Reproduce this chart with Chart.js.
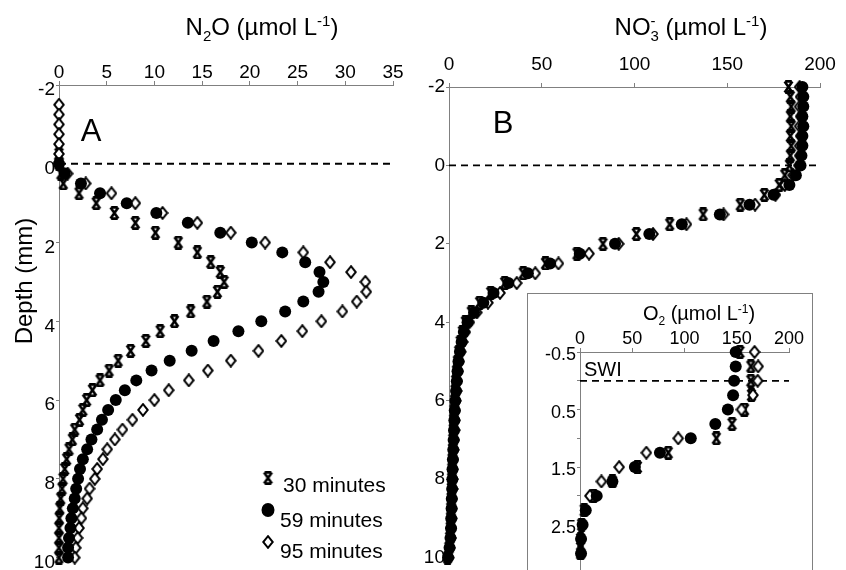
<!DOCTYPE html>
<html>
<head>
<meta charset="utf-8">
<script src="https://cdn.jsdelivr.net/npm/chart.js@4.4.0/dist/chart.umd.min.js"></script>
<style>
  html, body { margin: 0; padding: 0; background: #fff; overflow: hidden; }
  #wrap { position: relative; width: 846px; height: 570px; overflow: hidden; }
  #chartA { position: absolute; left: 0; top: 0; }
  #chartB { position: absolute; left: 420px; top: 0; }
  #insetBox { position: absolute; left: 527px; top: 293px; width: 284px; height: 300px;
              border: 1px solid #808080; background: #fff; }
  #chartC { display: block; }
</style>
</head>
<body>
<div id="wrap">
  <canvas id="chartA" width="420" height="570"></canvas>
  <canvas id="chartB" width="426" height="570"></canvas>
  <div id="insetBox"><canvas id="chartC" width="284" height="300"></canvas></div>
</div>
<script>
// depth (mm) below the sediment-water interface, negative = water column
var depthA = [-1.5, -1.25, -1, -0.75, -0.5, -0.25, 0, 0.25, 0.5, 0.75, 1, 1.25, 1.5, 1.75, 2, 2.25,
  2.5, 2.75, 3, 3.25, 3.5, 3.75, 4, 4.25, 4.5, 4.75, 5, 5.25, 5.5, 5.75, 6, 6.25, 6.5, 6.75, 7,
  7.25, 7.5, 7.75, 8, 8.25, 8.5, 8.75, 9, 9.25, 9.5, 9.75, 10];

// N2O (umol/L)
var n2o30 = [null, null, null, null, null, 0, 0, 0.2, 0.45, 2.1, 3.9, 5.8, 8.0, 10.1, 12.5, 14.5,
  15.9, 16.9, 17.3, 16.6, 15.5, 13.8, 12.1, 10.6, 9.1, 7.5, 6.2, 5.25, 4.3, 3.5, 2.9, 2.5, 2.15,
  1.65, 1.4, 1.05, 0.8, 0.6, 0.42, 0.32, 0.18, 0.08, 0.02, 0, 0, 0, 0];
var n2o59 = [null, null, null, null, null, null, 0, 0.6, 2.3, 4.3, 7.1, 10.2, 13.5, 16.9, 20.2, 23.4,
  25.8, 27.3, 27.7, 27.2, 25.6, 23.7, 21.2, 18.8, 16.2, 13.9, 11.6, 9.7, 8.1, 6.9, 5.95, 5.15, 4.5,
  4.0, 3.4, 2.95, 2.5, 2.2, 2.0, 1.8, 1.65, 1.45, 1.3, 1.2, 1.05, 0.95, 0.95];
var n2o95 = [0, 0, 0, 0, 0, 0, 0, 0.9, 2.8, 5.5, 8.0, 10.85, 14.5, 18.0, 21.6, 25.6,
  28.4, 30.6, 32.1, 32.2, 31.2, 29.7, 27.5, 25.5, 23.3, 20.9, 18.0, 15.6, 13.6, 11.5, 10.0, 8.8, 7.7,
  6.65, 5.85, 5.05, 4.6, 4.0, 3.75, 3.2, 2.95, 2.5, 2.35, 2.1, 1.95, 1.75, 1.65];

var depthB = [-2, -1.75, -1.5, -1.25, -1, -0.75, -0.5, -0.25, 0, 0.25, 0.5, 0.75, 1, 1.25, 1.5, 1.75,
  2, 2.25, 2.5, 2.75, 3, 3.25, 3.5, 3.75, 4, 4.25, 4.5, 4.75, 5, 5.25, 5.5, 5.75, 6, 6.25, 6.5,
  6.75, 7, 7.25, 7.5, 7.75, 8, 8.25, 8.5, 8.75, 9, 9.25, 9.5, 9.75, 10];

// NO3- (umol/L)
var no3_30 = [183, 184, 184.5, 184, 184.5, 184, 184.5, 184, 183.5, 181, 178, 170, 157, 137, 119, 101,
  83, 69, 52, 40, 30, 22.5, 16.5, 12, 8.8, 7.2, 6, 5.2, 4.5, 4.0, 3.6, 3.3, 3.0, 2.7, 2.5,
  2.3, 2.1, 1.9, 1.7, 1.6, 1.5, 1.3, 1.2, 1.0, 0.9, 0.7, 0.4, 0, -0.8];
var no3_59 = [190.5, 191, 191, 190.5, 191, 190.5, 190.5, 190, 189.5, 187, 183.5, 175, 162, 146, 125.5, 108,
  89.5, 70.5, 54.5, 42.5, 32, 24, 18.5, 13.5, 10, 8, 6.8, 5.9, 5.1, 4.6, 4.2, 3.8, 3.4, 3.1, 2.9,
  2.7, 2.5, 2.3, 2.1, 1.9, 1.8, 1.7, 1.5, 1.4, 1.2, 1.1, 0.8, 0.3, -0.5];
var no3_95 = [189, 189.5, 189, 189.5, 189, 189.5, 189, 189, 188.5, 185.5, 181, 176, 165, 148, 128, 110,
  91.5, 75.5, 59, 46.5, 36.5, 27.5, 21, 15, 11, 8.8, 7.4, 6.3, 5.5, 5.0, 4.5, 4.1, 3.7, 3.4, 3.2,
  3.0, 2.8, 2.5, 2.3, 2.1, 2.0, 1.9, 1.7, 1.6, 1.4, 1.3, 1.0, 0.5, 0];

var depthC = [-0.5, -0.25, 0, 0.25, 0.5, 0.75, 1, 1.25, 1.5, 1.75, 2, 2.25, 2.5, 2.75, 3];

// O2 (umol/L)
var o2_30 = [153, 163.5, 163.5, 164, 157.5, 145.5, 130.5, 84.5, 55, 31, 13, 4, 1.5, 0.5, 0.5];
var o2_59 = [149, 149, 147.5, 146.5, 141.5, 129.5, 106, 76.5, 52.5, 31, 16, 5.5, 2.5, 1, 1];
var o2_95 = [167, 170.5, 170, 165.5, 154.5, null, 94, 63.5, 37.5, 20.5, 9.5, null, null, null, null];

var seriesNames = ['30 minutes', '59 minutes', '95 minutes'];

var FONT = '"Liberation Sans", Arial, Helvetica, sans-serif';
Chart.defaults.font.family = FONT;
Chart.defaults.color = '#000';
Chart.defaults.animation = false;

// marker glyphs
function makeStar() {
  var c = document.createElement('canvas');
  c.width = 13; c.height = 14;
  var g = c.getContext('2d');
  g.strokeStyle = '#000';
  g.lineWidth = 2.6;
  g.beginPath();
  g.moveTo(3.2, 1.4); g.lineTo(9.8, 1.4);
  g.moveTo(3.2, 12.6); g.lineTo(9.8, 12.6);
  g.moveTo(2.6, 1.4); g.lineTo(10.4, 12.6);
  g.moveTo(10.4, 1.4); g.lineTo(2.6, 12.6);
  g.moveTo(6.5, 4.5); g.lineTo(6.5, 9.5);
  g.stroke();
  return c;
}

function makeDiamond() {
  var c = document.createElement('canvas');
  c.width = 12; c.height = 14;
  var g = c.getContext('2d');
  g.beginPath();
  g.moveTo(6, 1.2); g.lineTo(10.8, 7); g.lineTo(6, 12.8); g.lineTo(1.2, 7);
  g.closePath();
  g.fillStyle = '#fff';
  g.fill();
  g.lineWidth = 2;
  g.strokeStyle = '#000';
  g.stroke();
  return c;
}

var starImg = makeStar();
var diamondImg = makeDiamond();

function points(xs, ys) {
  var out = [];
  for (var i = 0; i < ys.length; i++) {
    if (xs[i] !== null) out.push({ x: xs[i], y: ys[i] });
  }
  return out;
}

// circles sit on top; `under` pushes the diamonds below the stars
function profileSets(depth, s30, s59, s95, under) {
  return [
    { label: seriesNames[0], data: points(s30, depth), pointStyle: starImg, pointRadius: 6, order: under ? 1 : 2, clip: false },
    { label: seriesNames[1], data: points(s59, depth), pointStyle: 'circle', pointRadius: 6,
      backgroundColor: '#000', borderColor: '#000', borderWidth: 0, order: 0, clip: false },
    { label: seriesNames[2], data: points(s95, depth), pointStyle: diamondImg, pointRadius: 6, order: under ? 2 : 1, clip: false }
  ];
}

function topAxis(max, step, height, gap, size) {
  return {
    type: 'linear', position: 'top', min: 0, max: max,
    ticks: { stepSize: step, font: { size: size }, padding: gap, maxRotation: 0, autoSkip: false },
    grid: { drawOnChartArea: false, drawTicks: true, tickLength: 4, color: '#808080' },
    border: { display: true, color: '#808080', width: 1 },
    afterFit: function (s) { s.height = height; }
  };
}

function depthAxis(min, max, step, width, shift, size, cb) {
  var ax = {
    type: 'linear', position: 'left', reverse: true, min: min, max: max,
    ticks: { stepSize: step, font: { size: size }, padding: 1, labelOffset: shift, autoSkip: false },
    grid: { drawOnChartArea: false, drawTicks: true, tickLength: 3, color: '#808080' },
    border: { display: true, color: '#808080', width: 1 },
    afterFit: function (s) { s.width = width; }
  };
  if (cb) ax.ticks.callback = cb;
  return ax;
}

// text with sub/superscripts: [text, shift(-1 sub, 1 sup), stacked on previous]
function drawRich(ctx, parts, cx, base, size) {
  var small = Math.round(size * 0.62);
  var widths = [], total = 0, prev = 0;
  parts.forEach(function (p) {
    ctx.font = (p[1] ? small : size) + 'px ' + FONT;
    var w = ctx.measureText(p[0]).width;
    widths.push(w);
    total += p[2] ? Math.max(0, w - prev) : w;
    prev = w;
  });
  var x = cx - total / 2, lastX = x;
  ctx.save();
  ctx.fillStyle = '#000';
  ctx.textAlign = 'left';
  ctx.textBaseline = 'alphabetic';
  parts.forEach(function (p, i) {
    ctx.font = (p[1] ? small : size) + 'px ' + FONT;
    var y = base + (p[1] < 0 ? size * 0.24 : p[1] > 0 ? -size * 0.36 : 0);
    if (p[2]) {
      ctx.fillText(p[0], lastX, y);
      x = Math.max(x, lastX + widths[i]);
    } else {
      ctx.fillText(p[0], x, y);
      lastX = x;
      x += widths[i];
    }
  });
  ctx.restore();
}

function drawSurface(chart) {
  var ctx = chart.ctx, a = chart.chartArea;
  var y = chart.scales.y.getPixelForValue(0);
  ctx.save();
  ctx.strokeStyle = '#000';
  ctx.lineWidth = 1.8;
  ctx.setLineDash([7, 5]);
  ctx.beginPath();
  ctx.moveTo(a.left, y);
  ctx.lineTo(a.right, y);
  ctx.stroke();
  ctx.restore();
}

function drawText(ctx, text, x, y, size, align) {
  ctx.save();
  ctx.font = size + 'px ' + FONT;
  ctx.fillStyle = '#000';
  ctx.textAlign = align || 'left';
  ctx.textBaseline = 'alphabetic';
  ctx.fillText(text, x, y);
  ctx.restore();
}

function baseOptions(x, y, pad) {
  return {
    responsive: false,
    layout: { padding: pad },
    plugins: { legend: { display: false }, tooltip: { enabled: false } },
    scales: { x: x, y: y }
  };
}

// panel A: N2O
var decorA = {
  id: 'decorA',
  beforeDatasetsDraw: drawSurface,
  afterDraw: function (chart) {
    var ctx = chart.ctx;
    drawRich(ctx, [['N', 0], ['2', -1], ['O (µmol L', 0], ['-1', 1], [')', 0]], 262, 35, 24);
    ctx.save();
    ctx.translate(32, 281);
    ctx.rotate(-Math.PI / 2);
    drawText(ctx, 'Depth (mm)', 0, 0, 24, 'center');
    ctx.restore();
    drawText(ctx, 'A', 91, 141, 31, 'center');

    // legend
    ctx.drawImage(starImg, 268 - starImg.width / 2, 478 - starImg.height / 2);
    ctx.save();
    ctx.fillStyle = '#000';
    ctx.beginPath();
    ctx.ellipse(268, 510, 6.5, 7, 0, 0, Math.PI * 2);
    ctx.fill();
    ctx.restore();
    ctx.drawImage(diamondImg, 268 - diamondImg.width / 2, 542 - diamondImg.height / 2);
    drawText(ctx, seriesNames[0], 283, 492, 21);
    drawText(ctx, seriesNames[1], 280, 527, 21);
    drawText(ctx, seriesNames[2], 280, 558, 21);
  }
};

new Chart(document.getElementById('chartA'), {
  type: 'scatter',
  data: { datasets: profileSets(depthA, n2o30, n2o59, n2o95, false) },
  options: baseOptions(
    topAxis(35, 5, 85, -3, 19),
    depthAxis(-2, 10, 2, 59, 5, 19),
    { left: 0, top: 0, right: 27, bottom: 10 }
  ),
  plugins: [decorA]
});

// panel B: NO3-
var decorB = {
  id: 'decorB',
  beforeDatasetsDraw: drawSurface,
  afterDraw: function (chart) {
    var ctx = chart.ctx;
    drawRich(ctx, [['NO', 0], ['3', -1], ['-', 1, true], [' (µmol L', 0], ['-1', 1], [')', 0]], 271, 35, 24);
    drawText(ctx, 'B', 83, 133, 31, 'center');
  }
};

new Chart(document.getElementById('chartB'), {
  type: 'scatter',
  data: { datasets: profileSets(depthB, no3_30, no3_59, no3_95, true) },
  options: baseOptions(
    topAxis(200, 50, 87, 7, 19),
    depthAxis(-2, 10, 2, 29, 0, 19),
    { left: 0, top: 0, right: 26, bottom: 8 }
  ),
  plugins: [decorB]
});

// inset: O2 near the interface
var decorC = {
  id: 'decorC',
  beforeDatasetsDraw: drawSurface,
  afterDraw: function (chart) {
    var ctx = chart.ctx;
    drawRich(ctx, [['O', 0], ['2', -1], [' (µmol L', 0], ['-1', 1], [')', 0]], 171, 26, 20);
    drawText(ctx, 'SWI', chart.chartArea.left + 4, chart.scales.y.getPixelForValue(0) - 5, 20);
  }
};

new Chart(document.getElementById('chartC'), {
  type: 'scatter',
  data: { datasets: profileSets(depthC, o2_30, o2_59, o2_95, false) },
  options: baseOptions(
    topAxis(200, 50, 58, -2, 18),
    depthAxis(-0.5, 3.5, 0.5, 52, 3, 18, function (v) {
      return Math.abs((v + 0.5) % 1) < 1e-6 ? String(v) : '';
    }),
    { left: 0, top: 0, right: 23, bottom: 6 }
  ),
  plugins: [decorC]
});
</script>
</body>
</html>
